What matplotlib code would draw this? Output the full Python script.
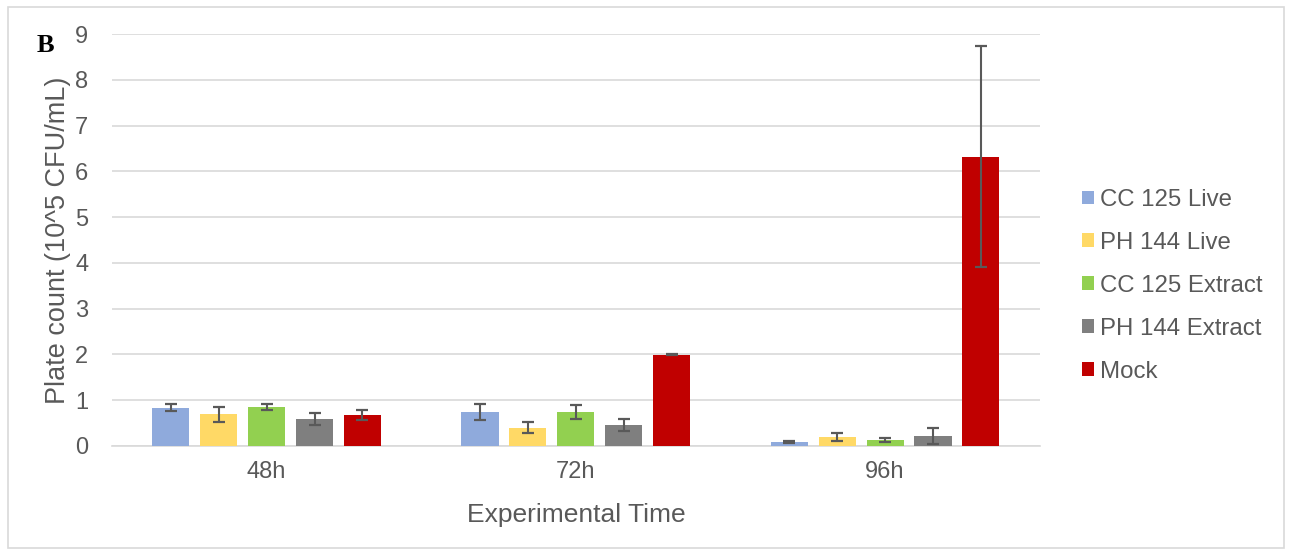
import numpy as np
import matplotlib.pyplot as plt
from matplotlib.patches import Rectangle

plt.rcParams['font.family'] = ['Liberation Sans', 'DejaVu Sans']

categories = ["48h", "72h", "96h"]
series = ["CC 125 Live", "PH 144 Live", "CC 125 Extract", "PH 144 Extract", "Mock"]
cc125_live = [0.84, 0.74, 0.08]
ph144_live = [0.69, 0.40, 0.20]
cc125_extract = [0.85, 0.75, 0.13]
ph144_extract = [0.59, 0.45, 0.22]
mock = [0.68, 1.99, 6.32]
cc125_live_err = [0.07, 0.18, 0.02]
ph144_live_err = [0.17, 0.12, 0.09]
cc125_extract_err = [0.07, 0.15, 0.05]
ph144_extract_err = [0.14, 0.13, 0.17]
mock_err = [0.11, 0.01, 2.41]

values = [cc125_live, ph144_live, cc125_extract, ph144_extract, mock]
errors = [cc125_live_err, ph144_live_err, cc125_extract_err, ph144_extract_err, mock_err]
colors = ["#8FAADC", "#FFD966", "#92D050", "#7F7F7F", "#C00000"]

fig = plt.figure(figsize=(12.92, 5.55), dpi=100)
ax = fig.add_axes([0.0867, 0.1964, 0.718, 0.7423])

x = np.arange(len(categories))
width = 0.12
step = 0.155
for i, (name, vals, errs, col) in enumerate(zip(series, values, errors, colors)):
    off = (i - 2) * step
    ax.bar(x + off, vals, width, color=col, label=name, zorder=3)
    ax.errorbar(x + off, vals, yerr=errs, fmt="none", ecolor="#595959",
                elinewidth=1.5, capsize=4.4, capthick=1.6, zorder=4)

ax.set_xlim(-0.5, 2.5)
ax.set_ylim(0, 9)
ax.set_yticks(range(0, 10))
ax.set_xticks(x)
ax.set_xticklabels(categories)
ax.tick_params(axis="both", length=0, labelsize=17, colors="#595959")
ax.tick_params(axis="y", pad=17)
ax.tick_params(axis="x", pad=11)
ax.yaxis.grid(True, color="#D9D9D9", linewidth=1.2, zorder=0)
ax.set_axisbelow(True)
for s in ["top", "right", "left"]:
    ax.spines[s].set_visible(False)
ax.spines["bottom"].set_color("#D9D9D9")
ax.spines["bottom"].set_linewidth(1.2)

ax.set_xlabel("Experimental Time", fontsize=19, color="#595959", labelpad=14)
ax.set_ylabel("Plate count (10^5 CFU/mL)", fontsize=19.5, color="#595959", labelpad=2.7)

leg = ax.legend(loc="center left", bbox_to_anchor=(1.022, 0.389), frameon=False,
                fontsize=17.3, handlelength=0.5, handleheight=0.5,
                handletextpad=0.25, labelspacing=0.87)
for t in leg.get_texts():
    t.set_color("#595959")

fig.text(0.028, 0.9063, "B", fontsize=19, fontweight="bold", va="baseline",
         family=["Liberation Serif", "DejaVu Serif"])

fig.patches.append(Rectangle((0.006, 0.013), 0.988, 0.975, transform=fig.transFigure,
                             fill=False, edgecolor="#D9D9D9", linewidth=1.2))

fig.savefig("out.png", dpi=100)
